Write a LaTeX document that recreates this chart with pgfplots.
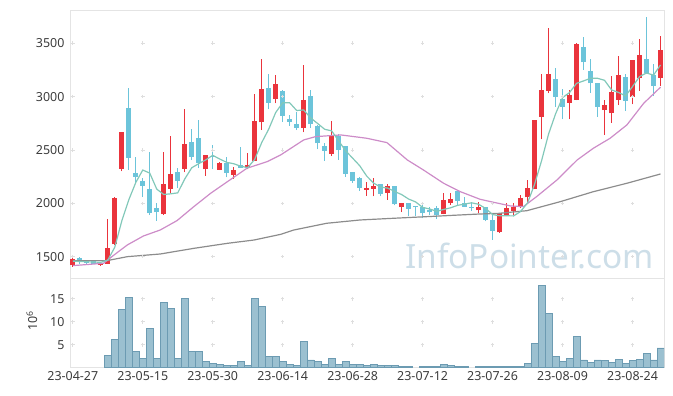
\documentclass[border=0pt]{standalone}
\usepackage{fontspec}
\setmainfont{Noto Sans}
\usepackage{pgfplots}
\usepackage{pgfplotstable}
\pgfplotsset{compat=1.18}
\definecolor{upred}{RGB}{234,52,60}
\definecolor{downblue}{RGB}{108,196,218}
\definecolor{maA}{RGB}{130,200,185}
\definecolor{maB}{RGB}{205,140,200}
\definecolor{maC}{RGB}{140,140,140}
\definecolor{volfill}{RGB}{155,192,208}
\definecolor{voledge}{RGB}{108,155,178}
\definecolor{framec}{RGB}{228,228,228}
\definecolor{tickc}{RGB}{60,60,60}
\definecolor{wm}{RGB}{205,222,232}
\definecolor{crossc}{RGB}{222,222,222}

\pgfplotstableread{
i o h l c
0 1422 1488 1404 1478
4 1422 1438 1413 1435
5 1432 1852 1430 1581
6 1615 2055 1610 2049
7 2325 2670 2300 2668
13 1899 2479 1890 2182
14 2138 2628 2101 2276
16 2325 2880 2291 2556
19 2319 2452 2260 2450
21 2316 2385 2310 2379
23 2269 2344 2232 2313
25 2338 2469 2319 2360
26 2397 3021 2395 2771
27 2759 3348 2687 3067
29 2979 3201 2936 3117
33 2708 3294 2665 2967
37 2466 2771 2447 2631
42 2129 2198 2070 2148
43 2136 2236 2064 2164
45 2101 2182 2033 2164
47 1964 2004 1918 2002
53 1899 2095 1897 2033
54 2002 2101 1986 2042
58 1933 2008 1908 1964
61 1727 1910 1725 1908
62 1893 2002 1877 1955
63 1924 2002 1893 1961
64 1964 2080 1960 2052
65 2055 2220 2017 2142
66 2136 2782 2134 2780
67 2811 3216 2600 3061
68 3054 3647 3030 3210
71 2942 3061 2787 3014
72 2967 3499 2965 3497
76 2874 2967 2640 2918
77 2843 3192 2755 3048
78 2973 3379 2920 3201
80 2998 3343 2927 3341
81 3170 3544 3054 3388
84 3176 3566 3098 3441
}\upt

\pgfplotstableread{
i o h l c
1 1488 1495 1432 1447
2 1450 1455 1435 1440
3 1456 1460 1432 1435
8 2893 3077 2313 2428
9 2282 2432 2189 2250
10 2210 2236 2058 2166
11 2132 2479 1890 1905
12 1958 2002 1836 1914
15 2294 2329 2142 2213
17 2575 2695 2407 2438
18 2612 2778 2329 2376
20 2442 2543 2319 2432
22 2376 2438 2242 2282
24 2360 2531 2330 2335
28 3082 3210 2880 2942
30 3054 3060 2765 2820
31 2790 2827 2727 2765
32 2743 2858 2687 2708
34 3004 3061 2708 2740
35 2724 2730 2506 2562
36 2537 2562 2400 2493
38 2631 2650 2407 2500
39 2537 2540 2250 2276
40 2294 2296 2195 2213
41 2238 2245 2120 2145
44 2182 2184 2064 2092
46 2164 2166 1980 1989
48 2002 2004 1877 1951
49 1977 1979 1883 1961
50 1970 1992 1858 1905
51 1939 1964 1893 1914
52 1958 1977 1852 1895
55 2117 2119 1983 2023
56 2002 2055 1968 1970
57 1964 2011 1930 1955
59 1961 1963 1830 1846
60 1839 1886 1659 1740
69 3161 3264 2905 2998
70 2977 3067 2787 2905
73 3462 3560 3254 3320
74 3236 3357 3036 3124
75 3130 3132 2812 2905
79 3186 3210 2867 2961
82 3348 3746 3215 3217
83 3201 3304 3004 3098
}\downt

\pgfplotstableread{
i v
5 2.7
6 6.2
7 12.7
8 15.3
9 3.6
10 2.0
11 8.6
12 2.0
13 14.2
14 12.9
15 2.0
16 15.1
17 3.6
18 3.6
19 1.4
20 1.0
21 0.7
22 0.5
23 0.5
24 1.4
25 0.5
26 15.1
27 13.4
28 2.5
29 2.5
30 1.4
31 0.7
32 0.5
33 5.7
34 1.7
35 1.4
36 0.7
37 2.0
38 0.7
39 1.4
40 0.7
41 0.7
42 0.5
43 0.7
44 0.5
45 0.5
46 0.5
47 0.3
48 0.3
50 0.3
51 0.3
52 0.3
53 0.7
54 0.5
55 0.3
56 0.3
58 0.3
59 0.3
60 0.3
61 0.3
62 0.3
63 0.3
64 0.3
65 1.0
66 5.2
67 17.8
68 11.8
69 2.5
70 1.4
71 2.0
72 6.8
73 1.7
74 1.2
75 1.7
76 1.5
77 1.2
78 1.8
79 1.0
80 1.5
81 1.8
82 3.1
83 1.7
84 4.3
}\volt

\begin{document}
\begin{tikzpicture}
\path[use as bounding box] (0,0) rectangle (673bp,396bp);
\begin{axis}[
  at={(70bp,118bp)}, anchor=south west, scale only axis,
  width=594bp, height=268bp,
  xmin=-0.4, xmax=84.5, ymin=1300, ymax=3812,
  xtick={0,10,...,80}, xticklabels={},
  ytick={1500,2000,2500,3000,3500},
  major tick length=0pt,
  axis line style={framec, line width=0.8bp},
  tick label style={font=\fontsize{12.5}{14}\selectfont, text=tickc},
  yticklabel style={xshift=-2bp},
  /pgf/number format/assume math mode=true,
  /pgf/number format/1000 sep={},
  scaled y ticks=false,
]
\node[text=wm, font=\fontsize{33.5}{40}\selectfont, anchor=center] at (axis cs:65.3,1505) {InfoPointer.com};
\addplot[only marks, mark=+, mark size=1.8bp, crossc, line width=0.6bp] coordinates {
(0,1500)(10,1500)(20,1500)(30,1500)(40,1500)(50,1500)(60,1500)(70,1500)(80,1500)
(0,2000)(10,2000)(20,2000)(30,2000)(40,2000)(50,2000)(60,2000)(70,2000)(80,2000)
(0,2500)(10,2500)(20,2500)(30,2500)(40,2500)(50,2500)(60,2500)(70,2500)(80,2500)
(0,3000)(10,3000)(20,3000)(30,3000)(40,3000)(50,3000)(60,3000)(70,3000)(80,3000)
(0,3500)(10,3500)(20,3500)(30,3500)(40,3500)(50,3500)(60,3500)(70,3500)(80,3500)
};
% wicks
\addplot[draw=none, mark=none, error bars/.cd, y dir=plus, y explicit, error mark=none,
  error bar style={draw=upred, line width=1.1bp}]
  table[x=i, y=l, y error plus expr=\thisrow{h}-\thisrow{l}] {\upt};
\addplot[draw=none, mark=none, error bars/.cd, y dir=plus, y explicit, error mark=none,
  error bar style={draw=downblue, line width=1.1bp}]
  table[x=i, y=l, y error plus expr=\thisrow{h}-\thisrow{l}] {\downt};
% bodies
\addplot[draw=none, mark=none, error bars/.cd, y dir=plus, y explicit, error mark=none,
  error bar style={draw=upred, line width=4.8bp}]
  table[x=i, y=o, y error plus expr=\thisrow{c}-\thisrow{o}] {\upt};
\addplot[draw=none, mark=none, error bars/.cd, y dir=plus, y explicit, error mark=none,
  error bar style={draw=downblue, line width=4.8bp}]
  table[x=i, y=c, y error plus expr=\thisrow{o}-\thisrow{c}] {\downt};
% moving averages
\addplot[maC, line width=1.2bp, mark=none] coordinates {
(0,1463)(4.9,1463)(7.8,1500)(12.5,1525)(17.3,1578)(22.1,1625)(25.9,1656)(29.7,1709)(31.6,1750)(36.3,1813)(41.1,1844)(45.9,1860)(50.6,1875)(55.4,1891)(58.2,1900)(60.9,1906)(64.9,1931)(69.7,2016)(74.4,2109)(79.2,2188)(84,2275)
};
\addplot[maB, line width=1.2bp, mark=none] coordinates {
(0,1416)(4.4,1438)(5.9,1516)(7.8,1610)(10.1,1694)(12.5,1750)(14.9,1838)(17.3,1969)(19.7,2094)(22.1,2203)(24.9,2329)(27.8,2391)(29.7,2453)(33,2594)(34.7,2625)(38.3,2641)(42,2610)(44.9,2569)(47.8,2407)(50.1,2313)(53,2188)(55.4,2109)(58.2,2038)(59.7,2016)(62.6,1975)(64.4,1969)(66.3,2063)(69.2,2219)(72.1,2407)(74.4,2516)(76.8,2610)(79.2,2735)(81.6,2938)(84,3088)
};
\addplot[maA, line width=1.2bp, mark=none] coordinates {
(0,1458)(1,1455)(2,1452)(3,1450)(4,1447)(5,1468)(6,1588)(7,1834)(8,2032)(9,2195)(10,2312)(11,2283)(12,2133)(13,2083)(14,2089)(15,2098)(16,2228)(17,2333)(18,2372)(19,2407)(20,2450)(21,2415)(22,2384)(23,2371)(24,2348)(25,2334)(26,2412)(27,2569)(28,2695)(29,2851)(30,2943)(31,2942)(32,2870)(33,2875)(34,2800)(35,2748)(36,2694)(37,2679)(38,2585)(39,2492)(40,2423)(41,2353)(42,2256)(43,2189)(44,2152)(45,2143)(46,2111)(47,2082)(48,2040)(49,2013)(50,1962)(51,1947)(52,1925)(53,1942)(54,1958)(55,1981)(56,1993)(57,2005)(58,1991)(59,1952)(60,1895)(61,1883)(62,1883)(63,1882)(64,1923)(65,2004)(66,2178)(67,2399)(68,2649)(69,2838)(70,2991)(71,3038)(72,3125)(73,3147)(74,3172)(75,3172)(76,3153)(77,3063)(78,3039)(79,3007)(80,3094)(81,3188)(82,3222)(83,3201)(84,3297)
};
\end{axis}
\begin{axis}[
  at={(70bp,28.3bp)}, anchor=south west, scale only axis,
  width=594bp, height=89.7bp,
  xmin=-0.4, xmax=84.5, ymin=0, ymax=19.5,
  xtick={0,10,...,80},
  xticklabels={23-04-27,23-05-15,23-05-30,23-06-14,23-06-28,23-07-12,23-07-26,23-08-09,23-08-24},
  ytick={5,10,15},
  major tick length=0pt,
  axis line style={framec, line width=0.8bp},
  tick label style={font=\fontsize{12.5}{14}\selectfont, text=tickc},
  yticklabel style={xshift=-2bp},
  /pgf/number format/assume math mode=true,
  ylabel={10\textsuperscript{6}},
  ylabel style={at={(rel axis cs:-0.064,0.52)}, anchor=center, rotate=0, font=\fontsize{12.5}{14}\selectfont, text=tickc},
]
\addplot[only marks, mark=+, mark size=1.8bp, crossc, line width=0.6bp] coordinates {
(0,5)(10,5)(20,5)(30,5)(40,5)(50,5)(60,5)(70,5)(80,5)
(0,10)(10,10)(20,10)(30,10)(40,10)(50,10)(60,10)(70,10)(80,10)
(0,15)(10,15)(20,15)(30,15)(40,15)(50,15)(60,15)(70,15)(80,15)
};
\addplot[ybar, bar width=7bp, bar shift=0pt, fill=volfill, draw=voledge, line width=0.7bp] table[x=i, y=v] {\volt};
\end{axis}
\end{tikzpicture}
\end{document}
